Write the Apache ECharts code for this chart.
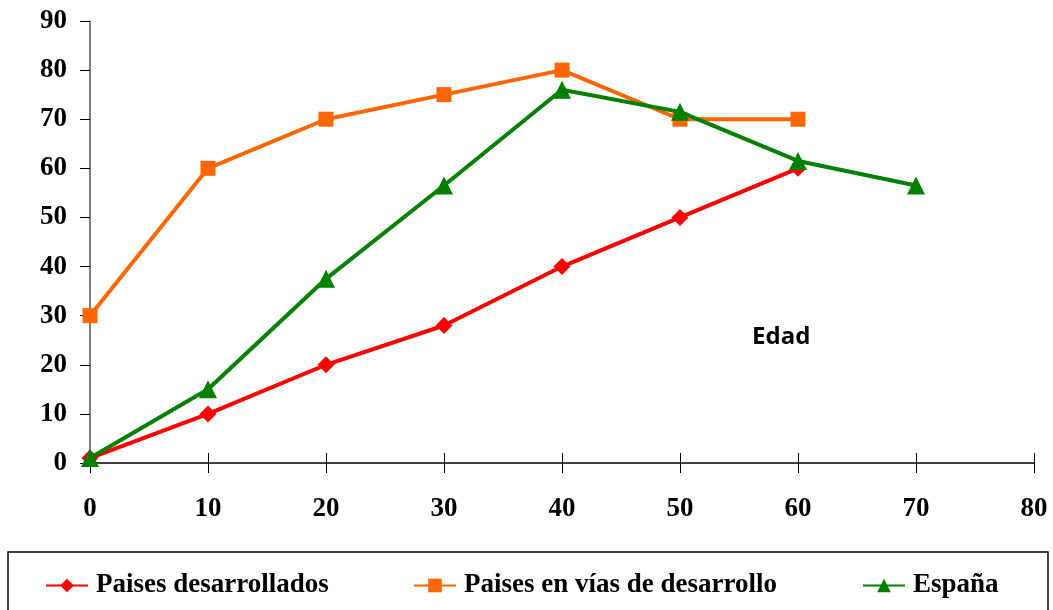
<!DOCTYPE html>
<html lang="es">
<head>
  <meta charset="UTF-8">
  <title>Edad</title>
  <style>
    html, body { margin: 0; padding: 0; background: #fff; }
    #chart { width: 1053px; height: 610px; }
  </style>
</head>
<body>
  <div id="chart"></div>
  <script src="https://cdn.jsdelivr.net/npm/echarts@6/dist/echarts.min.js"></script>
  <script>
    // data
    const ages = [0, 10, 20, 30, 40, 50, 60, 70];
    const desarrollados = [1, 10, 20, 28, 40, 50, 60];
    const enVias = [30, 60, 70, 75, 80, 70, 70];
    const espana = [1, 15, 37.5, 56.5, 76, 71.5, 61.5, 56.5];

    const names = ['Paises desarrollados', 'Paises en vías de desarrollo', 'España'];
    const colors = ['#ff0000', '#ff6600', '#008000'];
    const symbols = ['diamond', 'rect', 'triangle'];
    const sizes = [17, 15, 18];
    const values = [desarrollados, enVias, espana];

    const serif = '"Liberation Serif", "Times New Roman", serif';

    const pairs = vals => vals.map((v, i) => [ages[i], v]);

    const chart = echarts.init(document.getElementById('chart'));

    // left edge of each legend item (icon start)
    const legendLeft = [45, 413, 862];

    chart.setOption({
      animation: false,
      grid: { left: 90, right: 19, top: 21, bottom: 147 },
      xAxis: [
        {
          type: 'value', min: 0, max: 80, interval: 10,
          axisLine: { lineStyle: { color: '#000', width: 1.5 } },
          axisTick: { length: 10, lineStyle: { color: '#000' } },
          axisLabel: { margin: 33, fontFamily: serif, fontWeight: 'bold', fontSize: 27, color: '#000' },
          splitLine: { show: false }
        },
        {
          // second axis only to draw the inner half of the crossing ticks
          type: 'value', min: 0, max: 80, interval: 10, position: 'bottom',
          axisLine: { show: false },
          axisTick: { inside: true, length: 10, lineStyle: { color: '#000' } },
          axisLabel: { show: false },
          splitLine: { show: false }
        }
      ],
      yAxis: {
        type: 'value', min: 0, max: 90, interval: 10,
        axisLine: { show: true, lineStyle: { color: '#555', width: 1.5 } },
        axisTick: { show: true, length: 10, lineStyle: { color: '#000' } },
        axisLabel: { margin: 23, fontFamily: serif, fontWeight: 'bold', fontSize: 27, color: '#000' },
        splitLine: { show: false }
      },
      legend: names.map((n, i) => ({
        data: [n],
        left: legendLeft[i],
        top: 572,
        padding: 0,
        itemWidth: 42,
        itemHeight: 17,
        itemGap: 0,
        textStyle: { fontFamily: serif, fontWeight: 'bold', fontSize: 27, color: '#000', padding: [0, 0, 0, 3] }
      })),
      graphic: [
        {
          type: 'rect',
          shape: { x: 8, y: 552, width: 1040, height: 64 },
          style: { fill: 'none', stroke: '#000', lineWidth: 1.5 }
        },
        {
          type: 'text',
          x: 752,
          y: 337,
          style: {
            text: 'Edad',
            font: 'bold 24px "Open Sans", sans-serif',
            fill: '#000',
            verticalAlign: 'middle'
          }
        }
      ],
      series: names.map((n, i) => ({
        name: n,
        type: 'line',
        data: pairs(values[i]),
        symbol: symbols[i],
        symbolSize: sizes[i],
        lineStyle: { color: colors[i], width: 4 },
        itemStyle: { color: colors[i] },
        z: 3 + i
      }))
    });
  </script>
</body>
</html>
